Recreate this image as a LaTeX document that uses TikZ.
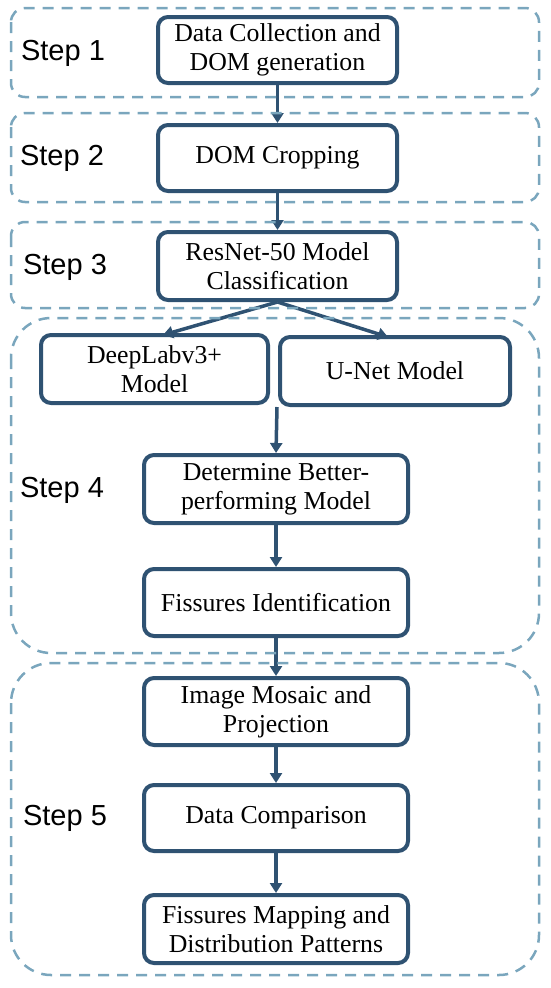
\documentclass[tikz,border=0pt]{standalone}
\usepackage{fontspec}
\setmainfont{Liberation Serif}
\newfontfamily\stepfont{Liberation Sans}
\usetikzlibrary{arrows.meta}
\definecolor{boxc}{HTML}{2F5272}
\definecolor{dashc}{HTML}{7AA6BD}
\begin{document}
\begin{tikzpicture}[x=1pt,y=-1pt,
  proc/.style={draw=boxc, line width=4pt, rounded corners=10pt, fill=white, align=center,
    font=\fontsize{25.8}{29}\selectfont, inner sep=0pt},
  group/.style={draw=dashc, line width=2.5pt, dash pattern=on 11pt off 8pt},
  steplabel/.style={font=\stepfont\fontsize{29}{34}\selectfont, anchor=center},
  flow/.style={draw=boxc, line width=3.5pt, -{Triangle[length=10pt,width=12pt]}}]
\useasboundingbox (0,0) rectangle (550,988);
% process boxes
\node[proc, minimum width=239pt, minimum height=66pt] (A) at (277.5,50) {Data Collection and\\DOM generation};
\node[proc, minimum width=239pt, minimum height=66pt] (B) at (277.5,158) {DOM Cropping};
\node[proc, minimum width=239pt, minimum height=68pt] (C) at (277.5,266) {ResNet-50 Model\\Classification};
\node[proc, minimum width=227pt, minimum height=68pt] (D) at (154.5,369) {DeepLabv3+\\Model};
\node[proc, minimum width=230pt, minimum height=68pt] (E) at (395,371) {U-Net Model};
\node[proc, minimum width=264pt, minimum height=68pt] (F) at (276,489) {Determine Better-\\performing Model};
\node[proc, minimum width=264pt, minimum height=67pt] (G) at (276,602.5) {Fissures Identification};
\node[proc, minimum width=264pt, minimum height=67pt] (H) at (276,711.5) {Image Mosaic and\\Projection};
\node[proc, minimum width=264pt, minimum height=66pt] (I) at (276,818) {Data Comparison};
\node[proc, minimum width=264pt, minimum height=68pt] (J) at (276,929) {Fissures Mapping and\\Distribution Patterns};
\coordinate (m) at (277,407);
\coordinate (dtop) at (163,335);
\coordinate (etop) at (388,337);
% connectors
\draw[flow] (A) -- (B);
\draw[flow] (B) -- (C);
\draw[flow] (C.south) -- (dtop);
\draw[flow] (C.south) -- (etop);
\draw[flow] (m) -- (F.north);
\draw[flow] (F) -- (G);
\draw[flow] (G.south) -- (G.south |- H.north);
\draw[flow] (H) -- (I);
\draw[flow] (I) -- (J);
% step groups
\draw[group, rounded corners=14pt] (11,8) rectangle (539,97);
\draw[group, rounded corners=14pt] (11,113) rectangle (539,202);
\draw[group, rounded corners=14pt] (11,222) rectangle (539,308);
\draw[group, rounded corners=40pt] (11,318) rectangle (539,653);
\draw[group, rounded corners=40pt] (11,663) rectangle (539,975);
% step labels
\node[steplabel] (s1) at (63,53) {Step 1};
\node[steplabel] (s2) at (62,158) {Step 2};
\node[steplabel] (s3) at (65,267) {Step 3};
\node[steplabel] (s4) at (62,490) {Step 4};
\node[steplabel] (s5) at (65,818) {Step 5};
\end{tikzpicture}
\end{document}
